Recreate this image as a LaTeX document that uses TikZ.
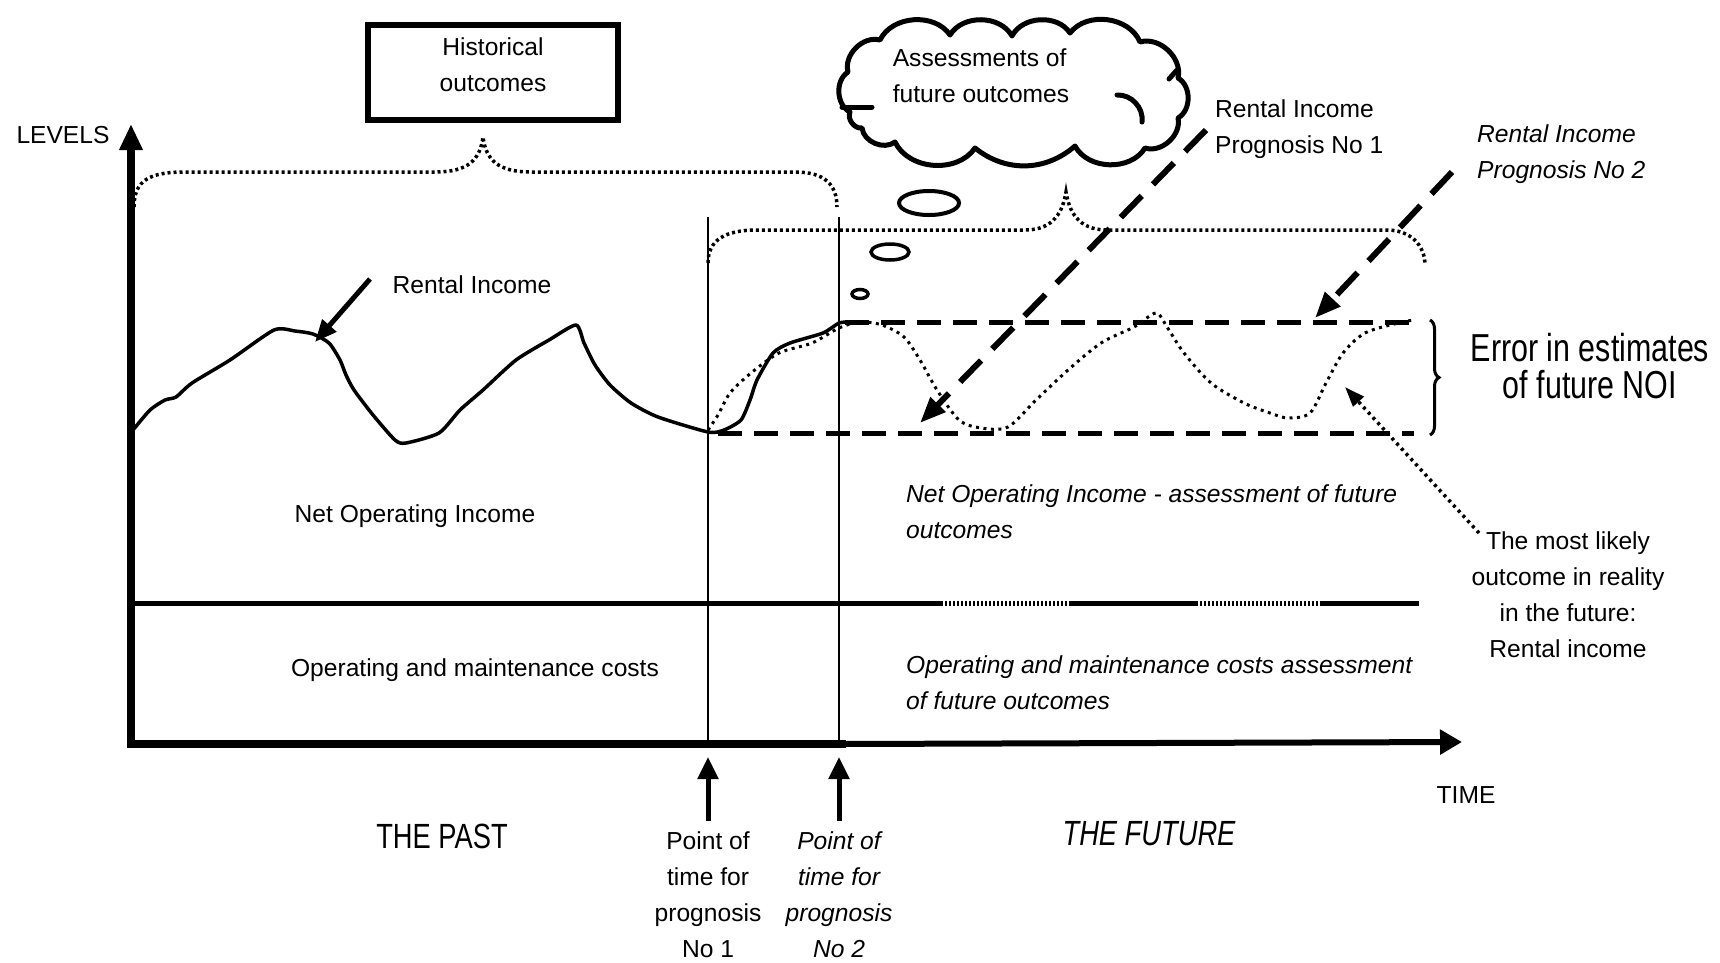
\documentclass[tikz,border=0pt]{standalone}
\usepackage{fontspec}
\setmainfont{Liberation Sans}
\newfontfamily\narrowfont{Liberation Sans}[FakeStretch=0.78]
\usetikzlibrary{arrows.meta,decorations.pathreplacing}

\begin{document}
\begin{tikzpicture}[x=1pt,y=-1pt,
    txt/.style={inner sep=0pt,align=center,font=\fontsize{24.6pt}{36pt}\selectfont},
    ittxt/.style={txt,font=\fontsize{24.6pt}{36pt}\selectfont\itshape},
    bigtxt/.style={inner sep=0pt,align=center,font=\narrowfont\fontsize{35pt}{37pt}\selectfont},
    dotline/.style={line width=3.5pt,dash pattern=on 3pt off 3pt},
    dashline/.style={line width=5pt,dash pattern=on 24pt off 12pt},
    bigarrow/.style={line width=5pt,-{Triangle[width=18pt,length=22pt]}},
    uparrow/.style={line width=5pt,-{Triangle[width=20pt,length=22pt]}},
    dasharrow/.style={line width=6pt,dash pattern=on 30pt off 16pt,-{Triangle[width=20pt,length=26pt]}},
    puff/.style={bend left=60}]
    \useasboundingbox (0,0) rectangle (1720,962);
    % Draw axes
    \coordinate (origin) at (131,744);
    \coordinate (ybot) at (131,748);
    \coordinate (ytop) at (131,124);
    \coordinate (now) at (842,744);
    \coordinate (xend) at (1462,742);
    \draw[line width=8pt,-{Triangle[width=22pt,length=26pt]}] (ybot) -- (ytop);
    \draw[line width=8pt,line cap=rect] (origin) -- (now);
    \draw[line width=6pt,-{Triangle[width=24pt,length=22pt]}] (now) -- (xend);
    \node[txt] (levels) at (63,135) {LEVELS};
    \node[txt] (time) at (1466,795) {TIME};
    % Points of time for the prognoses
    \foreach \t/\x in {1/708,2/839} {
        \coordinate (t\t) at (\x,744);
        \coordinate (top\t) at (\x,217);
        \coordinate (tip\t) at (\x,757);
        \draw[line width=1.5pt] (t\t) -- (top\t);
    }
    \node[txt,anchor=north] (point1) at (708,831) {Point of\\time for\\prognosis\\No 1};
    \node[ittxt,anchor=north] (point2) at (839,831) {Point of\\time for\\prognosis\\No 2};
    \draw[uparrow] ([yshift=10pt]point1.north) -- (tip1);
    \draw[uparrow] ([yshift=10pt]point2.north) -- (tip2);
    \node[bigtxt] (past) at (442,836) {THE PAST};
    \node[bigtxt,font=\narrowfont\fontsize{35pt}{37pt}\selectfont\itshape] (future) at (1149,834) {THE FUTURE};
    % Line between income and costs
    \coordinate (noiL) at (131,603);
    \coordinate (d1) at (941,603);
    \coordinate (d2) at (1070,603);
    \coordinate (d3) at (1196,603);
    \coordinate (d4) at (1322,603);
    \coordinate (noiR) at (1419,603);
    \draw[line width=5pt] (noiL) -- (d1) (d2) -- (d3) (d4) -- (noiR);
    \draw[line width=5pt,dash pattern=on 2pt off 2pt] (d1) -- (d2) (d3) -- (d4);
    \node[txt] (noi) at (415,516) {Net Operating Income};
    \node[txt] (costs) at (475,670) {Operating and maintenance costs};
    \node[ittxt,align=left,anchor=north west] (noifut) at (906,484) {Net Operating Income - assessment of future\\outcomes};
    \node[ittxt,align=left,anchor=north west] (costfut) at (906,655) {Operating and maintenance costs assessment\\of future outcomes};
    % Historical outcomes
    \node[draw,line width=6pt,minimum width=250pt,minimum height=95pt] (hist) at (493,72) {};
    \node[txt] (histtxt) at (493,65) {Historical\\outcomes};
    \draw[dotline] (134,207) .. controls (134,180) and (150,172) .. (185,172) -- (435,172)
        .. controls (468,172) and (480,160) .. (483,137) .. controls (486,160) and (498,172) .. (531,172)
        -- (795,172) .. controls (825,172) and (837,185) .. (837,207);
    % Assessments of future outcomes (thought cloud)
    \draw[line width=5pt,line cap=round,line join=round] (850,112) to[puff] (848,72) to[puff] (880,40)
        to[puff] (950,35) to[puff] (1012,36) to[puff] (1070,33) to[puff] (1140,42) to[puff] (1178,78)
        to[puff] (1178,118) to[puff] (1145,148) to[puff] (1075,146) to[bend left=40] (975,148)
        to[puff] (895,142) to[puff] (862,128) to[puff] (850,112);
    \draw[line width=5pt,line cap=round] (1117,95) to[bend left=50] (1142,122);
    \draw[line width=5pt,line cap=round] (842,107) -- (872,107);
    \draw[line width=5pt,line cap=round] (1169,79) -- (1177,70);
    \node[txt,align=left] (cloudtxt) at (981,76) {Assessments of\\future outcomes};
    \draw[line width=4pt] (929,203) ellipse (30 and 12);
    \draw[line width=3.5pt] (890,252) ellipse (19 and 8);
    \draw[line width=3.5pt] (860,294) ellipse (8 and 4.5);
    \draw[dotline] (708,263) .. controls (708,240) and (725,230) .. (757,230) -- (1025,230)
        .. controls (1055,230) and (1063,210) .. (1066,192) .. controls (1069,210) and (1077,230) .. (1107,230)
        -- (1387,230) .. controls (1410,230) and (1425,245) .. (1425,265);
    % Rental income so far
    \draw[line width=3.5pt,line join=round] plot[smooth,tension=0.4] coordinates {(133,430) (150,410) (165,400) (176,397) (192,383) (230,360) (274,330) (295,331) (313,334) (329,343) (340,360) (346,375) (354,390) (373,415) (395,440) (406,443) (439,433) (460,410) (483,390) (516,360) (549,340) (576,325) (584,343) (595,365) (610,385) (631,403) (658,417) (708,432) (724,430) (741,420) (750,400) (757,380) (773,353) (790,343) (823,333) (839,323) (850,322)};
    \node[txt] (rental) at (472,285) {Rental Income};
    \coordinate (rtail) at (370,279);
    \coordinate (rtip) at (315,342);
    \draw[bigarrow] (rtail) -- (rtip);
    % Most likely outcome
    \draw[line width=3pt,dash pattern=on 3pt off 4.5pt] plot[smooth,tension=0.5] coordinates {(708,430) (718,415) (730,393) (751,373) (779,353) (812,343) (839,328) (860,322) (882,325) (904,337) (920,360) (937,390) (959,420) (981,428) (1008,427) (1036,400) (1068,370) (1101,343) (1134,327) (1156,313) (1167,327) (1184,353) (1211,383) (1244,403) (1270,413) (1288,418) (1310,413) (1326,383) (1343,353) (1365,333) (1398,323) (1414,320)};
    % Prognoses
    \coordinate (hiL) at (845,322);
    \coordinate (hiR) at (1414,322);
    \coordinate (loL) at (718,433);
    \coordinate (loR) at (1414,433);
    \draw[dashline] (hiL) -- (hiR);
    \draw[dashline] (loL) -- (loR);
    \draw[line width=3pt,decorate,decoration={brace,amplitude=9pt}] (1430,320) -- (1430,435);
    \node[bigtxt,font=\narrowfont\fontsize{39pt}{37pt}\selectfont] (err) at (1590,366) {Error in estimates\\of future NOI};
    \node[txt,align=left,anchor=north west] (prog1) at (1215,99) {Rental Income\\Prognosis No 1};
    \node[ittxt,align=left,anchor=north west] (prog2) at (1477,124) {Rental Income\\Prognosis No 2};
    \coordinate (p1tail) at (1206,130);
    \coordinate (p1tip) at (920,423);
    \coordinate (p2tail) at (1452,172);
    \coordinate (p2tip) at (1315,318);
    \draw[dasharrow] (p1tail) -- (p1tip);
    \draw[dasharrow] (p2tail) -- (p2tip);
    \node[txt,anchor=north] (likely) at (1568,531) {The most likely\\outcome in reality\\in the future:\\Rental income};
    \coordinate (ltail) at (1479,533);
    \coordinate (ltip) at (1345,387);
    \draw[line width=3.5pt,dash pattern=on 3pt off 4pt,-{Triangle[width=14pt,length=20pt]}] (ltail) -- (ltip);
\end{tikzpicture}
\end{document}
